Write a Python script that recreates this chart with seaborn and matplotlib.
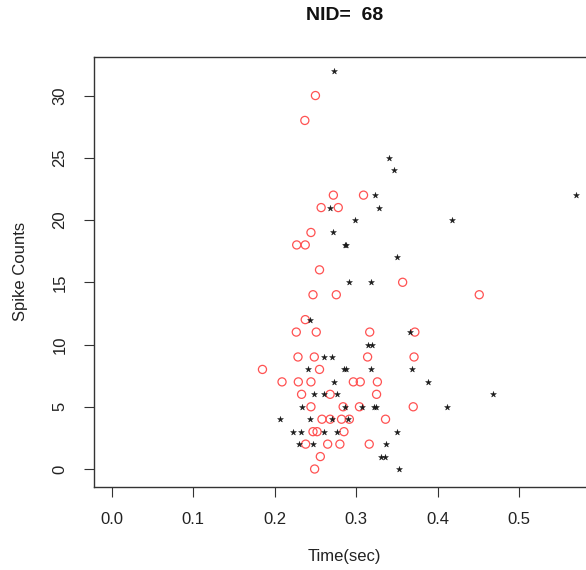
import matplotlib
matplotlib.use("Agg")
import matplotlib.pyplot as plt
import seaborn as sns
import pandas as pd

# ---- data ----
circle_time = [0.250, 0.237, 0.272, 0.309, 0.257, 0.278, 0.2445, 0.227, 0.2375,
               0.255, 0.357, 0.247, 0.2756, 0.451, 0.2375, 0.2265, 0.251, 0.3166,
               0.372, 0.2286, 0.2486, 0.314, 0.371, 0.185, 0.255, 0.209, 0.229,
               0.2445, 0.2965, 0.305, 0.326, 0.233, 0.268, 0.325, 0.2445, 0.284,
               0.304, 0.370, 0.258, 0.268, 0.282, 0.2916, 0.336, 0.247, 0.252,
               0.285, 0.238, 0.265, 0.280, 0.316, 0.256, 0.249]
circle_count = [30, 28, 22, 22, 21, 21, 19, 18, 18,
                16, 15, 14, 14, 14, 12, 11, 11, 11,
                11, 9, 9, 9, 9, 8, 8, 7, 7,
                7, 7, 7, 7, 6, 6, 6, 5, 5,
                5, 5, 4, 4, 4, 4, 4, 3, 3,
                3, 2, 2, 2, 2, 1, 0]

star_time = [0.273, 0.340, 0.347, 0.323, 0.570, 0.2675, 0.328, 0.2985, 0.418,
             0.2715, 0.286, 0.288, 0.350, 0.291, 0.318, 0.243, 0.366, 0.314,
             0.320, 0.260, 0.270, 0.241, 0.285, 0.287, 0.318, 0.368, 0.273,
             0.3885, 0.248, 0.260, 0.277, 0.4675, 0.234, 0.286, 0.307, 0.322,
             0.324, 0.411, 0.207, 0.243, 0.270, 0.290, 0.222, 0.232, 0.260,
             0.276, 0.350, 0.230, 0.247, 0.337, 0.331, 0.335, 0.3525]
star_count = [32, 25, 24, 22, 22, 21, 21, 20, 20,
              19, 18, 18, 17, 15, 15, 12, 11, 10,
              10, 9, 9, 8, 8, 8, 8, 8, 7,
              7, 6, 6, 6, 6, 5, 5, 5, 5,
              5, 5, 4, 4, 4, 4, 3, 3, 3,
              3, 3, 2, 2, 2, 1, 1, 0]

x_ticks = [0.0, 0.1, 0.2, 0.3, 0.4, 0.5]
x_tick_labels = ["0.0", "0.1", "0.2", "0.3", "0.4", "0.5"]
y_ticks = [0, 5, 10, 15, 20, 25, 30]
y_tick_labels = ["0", "5", "10", "15", "20", "25", "30"]
title_text = "NID=  68"

circles = pd.DataFrame({"time": circle_time, "count": circle_count})
stars = pd.DataFrame({"time": star_time, "count": star_count})

sns.set_style("white")
plt.rcParams["font.family"] = ["Liberation Sans", "DejaVu Sans"]

W, H = 586, 570
fig = plt.figure(figsize=(W / 100, H / 100), dpi=100)
left_px, right_px, top_px, bottom_px = 94, 595, 56.7, 486.7
ax = fig.add_axes([left_px / W, (H - bottom_px) / H,
                   (right_px - left_px) / W, (bottom_px - top_px) / H])

sns.scatterplot(data=circles, x="time", y="count", ax=ax, marker="o",
                s=34, facecolor="none", edgecolor="#ff5252", linewidth=0.9,
                legend=False)
sns.scatterplot(data=stars, x="time", y="count", ax=ax, marker="*",
                s=20, color="#1a1a1a", edgecolor="#1a1a1a", linewidth=0.3,
                legend=False)

ax.set_xlim(-0.0217, -0.0217 + (right_px - left_px) / 815.0)
ax.set_ylim(-1.42, 33.12)

ax.set_xticks(x_ticks)
ax.set_xticklabels(x_tick_labels)
ax.set_yticks(y_ticks)
ax.set_yticklabels(y_tick_labels, rotation=90, va="center")

ax.tick_params(axis="both", direction="out", length=7, width=0.8,
               color="#333333", labelsize=12, labelcolor="#222222",
               bottom=True, left=True)
ax.tick_params(axis="x", pad=11)
ax.tick_params(axis="y", pad=12)
for sp in ax.spines.values():
    sp.set_visible(True)
    sp.set_color("#333333")
    sp.set_linewidth(1.0)

ax.set_xlabel("Time(sec)", fontsize=12, color="#222222", va="center")
ax.xaxis.set_label_coords(0.5, (bottom_px - 557) / (bottom_px - top_px))
ax.set_ylabel("Spike Counts", fontsize=12, color="#222222", va="center")
ax.yaxis.set_label_coords((20 - left_px) / (right_px - left_px), 0.5)

ax.set_title(title_text, fontsize=14, fontweight="bold", color="#111111",
             y=(bottom_px - 15) / (bottom_px - top_px), va="center", pad=0)

fig.savefig("out.png", dpi=100)
